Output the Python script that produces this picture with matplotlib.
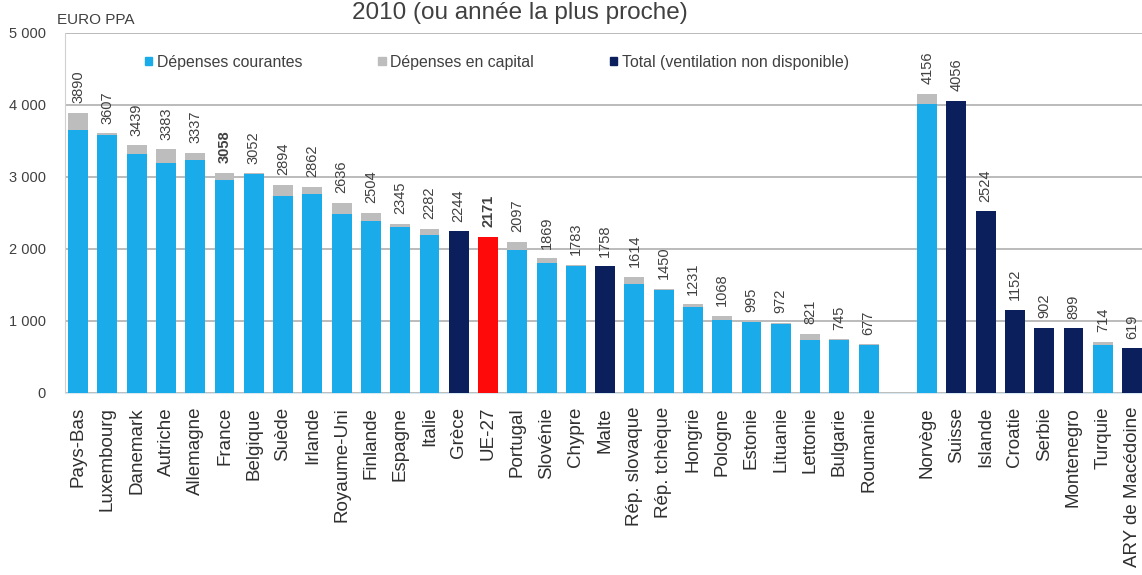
import matplotlib
matplotlib.use("Agg")
import matplotlib.pyplot as plt
from matplotlib.patches import Patch
import numpy as np

plt.rcParams['font.family'] = ['Liberation Sans', 'DejaVu Sans']

# pays et valeurs (EURO PPA)
pays = ["Pays-Bas", "Luxembourg", "Danemark", "Autriche", "Allemagne", "France",
        "Belgique", "Suède", "Irlande", "Royaume-Uni", "Finlande", "Espagne",
        "Italie", "Grèce", "UE-27", "Portugal", "Slovénie", "Chypre", "Malte",
        "Rép. slovaque", "Rép. tchèque", "Hongrie", "Pologne", "Estonie",
        "Lituanie", "Lettonie", "Bulgarie", "Roumanie",
        "Norvège", "Suisse", "Islande", "Croatie", "Serbie", "Montenegro",
        "Turquie", "ARY de Macédoine"]
total = [3890, 3607, 3439, 3383, 3337, 3058, 3052, 2894, 2862, 2636, 2504, 2345,
         2282, 2244, 2171, 2097, 1869, 1783, 1758, 1614, 1450, 1231, 1068, 995,
         972, 821, 745, 677,
         4156, 4056, 2524, 1152, 902, 899, 714, 619]
# dépenses courantes (None = ventilation non disponible)
courantes = [3650, 3590, 3320, 3200, 3230, 2960, 3040, 2740, 2760, 2490, 2390, 2300,
             2200, None, None, 1990, 1800, 1770, None, 1520, 1430, 1195, 1010, 985,
             960, 740, 730, 670,
             4020, None, None, None, None, None, 660, None]
nb_ue = 28

bleu = '#19ABEA'
gris = '#BDBDBD'
marine = '#0B1F5C'
rouge = '#FF0A0A'
texte = '#404040'

fig = plt.figure(figsize=(11.42, 5.75), dpi=100)
ax = fig.add_axes([65/1142, 1 - 393/575, 1 - 65/1142, 360/575])

x = np.array([i if i < nb_ue else i + 1 for i in range(len(pays))])
w = 0.68

for i, p in enumerate(pays):
    if p == "UE-27":
        ax.bar(x[i], total[i], w, color=rouge, zorder=3)
    elif courantes[i] is None:
        ax.bar(x[i], total[i], w, color=marine, zorder=3)
    else:
        ax.bar(x[i], courantes[i], w, color=bleu, zorder=3)
        ax.bar(x[i], total[i] - courantes[i], w, bottom=courantes[i], color=gris, zorder=3)
    poids = 'bold' if p in ("France", "UE-27") else 'normal'
    ax.annotate(str(total[i]), (x[i], total[i]), xytext=(0, 7), textcoords='offset points',
                rotation=90, ha='center', va='bottom', fontsize=10.5, color=texte,
                fontweight=poids, annotation_clip=False)

ax.set_xlim(-0.45, 36.34)
ax.set_ylim(0, 5000)
ax.set_yticks(range(0, 5001, 1000))
ax.set_yticklabels(["0", "1 000", "2 000", "3 000", "4 000", "5 000"])
ax.set_xticks(x)
ax.set_xticklabels(pays, rotation=90, fontsize=13.5, color='#303030')
ax.tick_params(axis='y', length=0, labelsize=10.5, labelcolor=texte, pad=14)
ax.tick_params(axis='x', length=0, pad=10)
ax.yaxis.grid(True, color='#A8A8A8', linewidth=1.1, zorder=0)
for s in ['top', 'right']:
    ax.spines[s].set_visible(False)
ax.spines['left'].set_color('#D0D0D0')
ax.spines['bottom'].set_color('#D8E8F0')

poignees = [Patch(color=bleu), Patch(color=gris), Patch(color=marine)]
noms = ["Dépenses courantes", "Dépenses en capital", "Total (ventilation non disponible)"]
fig.legend(poignees, noms, ncol=3, loc='center', bbox_to_anchor=(497/1142, 1 - 62/575),
           frameon=False, fontsize=11.4, handlelength=0.45, handleheight=0.45,
           handletextpad=0.3, columnspacing=4.8, labelcolor=texte)

fig.text(57/1142, 1 - 20/575, "EURO PPA", fontsize=11, color=texte, va='center')
fig.text(520/1142, 1 - 19/575, "2010 (ou année la plus proche)", fontsize=17.5,
         color=texte, ha='center', va='baseline')

fig.savefig("out.png", dpi=100)
